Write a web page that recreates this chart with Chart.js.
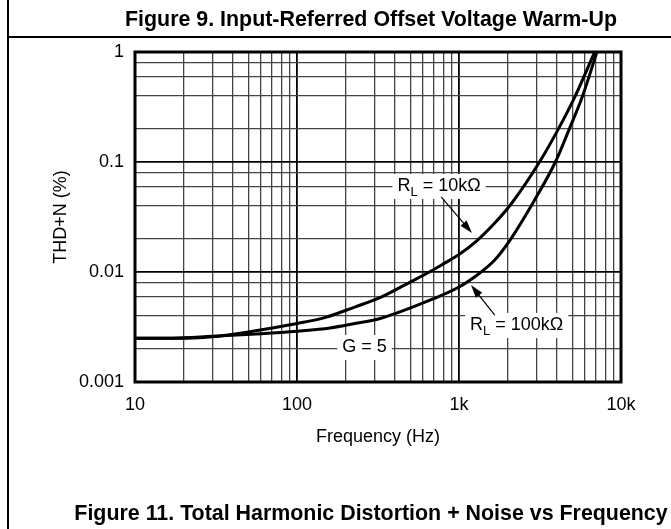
<!DOCTYPE html>
<html>
<head>
<meta charset="utf-8">
<script src="https://cdn.jsdelivr.net/npm/chart.js@4.4.1/dist/chart.umd.min.js"></script>
<style>
  html, body { margin: 0; padding: 0; background: #fff; }
  #page { position: relative; width: 671px; height: 529px; overflow: hidden; font-family: "Liberation Sans", Arial, sans-serif; color: #000; }
  #chartBox { position: absolute; left: 0; top: 0; width: 671px; height: 529px; }
  .rule-left { position: absolute; left: 7px; top: 0; width: 1.5px; height: 529px; background: #000; }
  .rule-top { position: absolute; left: 7px; top: 36px; width: 664px; height: 1.5px; background: #000; }
  .fig-title { position: absolute; left: 0; width: 742px; text-align: center; font-weight: bold; font-size: 21.4px; line-height: 24px; white-space: nowrap; }
</style>
</head>
<body>
<div id="page">
  <div id="chartBox"><canvas id="myChart" width="671" height="529"></canvas></div>
  <div class="rule-left"></div>
  <div class="rule-top"></div>
  <div class="fig-title" style="top:7px">Figure 9. Input-Referred Offset Voltage Warm-Up</div>
  <div class="fig-title" style="top:501px">Figure 11. Total Harmonic Distortion + Noise vs Frequency</div>
</div>
<script>
// THD+N vs frequency, G = 5
var freq10k = [10, 17, 30, 50, 100, 150, 227, 330, 500, 673, 820, 1000, 1271, 1663, 2097, 3140, 4108, 5224, 6878];
var thd10k  = [0.0025, 0.0025, 0.00258, 0.00285, 0.0034, 0.00387, 0.0048, 0.0059, 0.0081, 0.0102, 0.0121, 0.0144, 0.0189, 0.0279, 0.0415, 0.1, 0.2, 0.4, 1.0];

var freq100k = [10, 17, 30, 60, 100, 160, 227, 330, 673, 1000, 1345, 1650, 2000, 2925, 3935, 4800, 5800, 7100];
var thd100k  = [0.0025, 0.0025, 0.0026, 0.00275, 0.0029, 0.0031, 0.0034, 0.0038, 0.0056, 0.0073, 0.0098, 0.0127, 0.0182, 0.045, 0.1, 0.2, 0.4, 1.0];

var xTicks = [10,20,30,40,50,60,70,80,90,100,200,300,400,500,600,700,800,900,1000,2000,3000,4000,5000,6000,7000,8000,9000,10000];
var xLabels = {10: '10', 100: '100', 1000: '1k', 10000: '10k'};
var yTicks = [0.001,0.002,0.004,0.006,0.008,0.01,0.02,0.04,0.06,0.08,0.1,0.2,0.4,0.6,0.8,1];
var yLabels = {0.001: '0.001', 0.01: '0.01', 0.1: '0.1', 1: '1'};

// callouts, anchored in data units: [freq, thd]
var notes = [
    {main: 'R', sub: 'L', rest: ' = 10kΩ', at: [753, 0.0605], arrow: [[776, 0.0481], [1203, 0.0226]]},
    {main: 'R', sub: 'L', rest: ' = 100kΩ', at: [2270, 0.0033], arrow: [[1663, 0.00406], [1186, 0.00762]]},
    {main: 'G = 5', sub: '', rest: '', at: [261, 0.00208], arrow: null}
];

var FONT = '"Liberation Sans", Arial, sans-serif';

function isDecade(v) {
    var l = Math.log10(v);
    return Math.abs(l - Math.round(l)) < 1e-6;
}
function toPoints(xs, ys) {
    return xs.map(function(x, i) { return {x: x, y: ys[i]}; });
}
function gridColor(c) { return (c.tick && isDecade(c.tick.value)) ? '#000' : '#444'; }
function gridWidth(c) { return (c.tick && isDecade(c.tick.value)) ? 1.8 : 1.3; }

var framePlugin = {
    id: 'frame',
    afterDatasetsDraw: function(chart) {
        var ctx = chart.ctx, a = chart.chartArea;
        var xs = chart.scales.x, ys = chart.scales.y;
        ctx.save();
        ctx.strokeStyle = '#000';
        ctx.lineWidth = 3;
        ctx.strokeRect(a.left, a.top, a.right - a.left, a.bottom - a.top);

        ctx.textBaseline = 'middle';
        notes.forEach(function(n) {
            var subFont = '13px ' + FONT;
            ctx.font = '18px ' + FONT;
            var w1 = ctx.measureText(n.main).width;
            var w3 = ctx.measureText(n.rest).width;
            ctx.font = subFont;
            var w2 = n.sub ? ctx.measureText(n.sub).width : 0;
            var w = w1 + w2 + w3;
            var cx = xs.getPixelForValue(n.at[0]);
            var cy = ys.getPixelForValue(n.at[1]);
            ctx.fillStyle = '#fff';
            ctx.fillRect(cx - w / 2 - 5, cy - 12, w + 10, 25);
            ctx.fillStyle = '#000';
            var x0 = cx - w / 2;
            ctx.textAlign = 'left';
            ctx.font = '18px ' + FONT;
            ctx.fillText(n.main, x0, cy);
            if (n.sub) {
                ctx.font = subFont;
                ctx.fillText(n.sub, x0 + w1, cy + 6);
            }
            ctx.font = '18px ' + FONT;
            ctx.fillText(n.rest, x0 + w1 + w2, cy);

            if (n.arrow) {
                var x1 = xs.getPixelForValue(n.arrow[0][0]), y1 = ys.getPixelForValue(n.arrow[0][1]);
                var x2 = xs.getPixelForValue(n.arrow[1][0]), y2 = ys.getPixelForValue(n.arrow[1][1]);
                var ang = Math.atan2(y2 - y1, x2 - x1);
                ctx.lineWidth = 1.2;
                ctx.beginPath();
                ctx.moveTo(x1, y1);
                ctx.lineTo(x2 - 8 * Math.cos(ang), y2 - 8 * Math.sin(ang));
                ctx.stroke();
                ctx.beginPath();
                ctx.moveTo(x2, y2);
                ctx.lineTo(x2 - 13 * Math.cos(ang) + 4 * Math.sin(ang), y2 - 13 * Math.sin(ang) - 4 * Math.cos(ang));
                ctx.lineTo(x2 - 13 * Math.cos(ang) - 4 * Math.sin(ang), y2 - 13 * Math.sin(ang) + 4 * Math.cos(ang));
                ctx.closePath();
                ctx.fill();
            }
        });
        ctx.restore();
    }
};

var ctx = document.getElementById('myChart').getContext('2d');
var myChart = new Chart(ctx, {
    type: 'line',
    data: {
        datasets: [{
            label: 'RL = 10kΩ',
            data: toPoints(freq10k, thd10k),
            borderColor: '#000',
            borderWidth: 3,
            pointRadius: 0,
            cubicInterpolationMode: 'monotone'
        }, {
            label: 'RL = 100kΩ',
            data: toPoints(freq100k, thd100k),
            borderColor: '#000',
            borderWidth: 3,
            pointRadius: 0,
            cubicInterpolationMode: 'monotone'
        }]
    },
    options: {
        responsive: false,
        animation: false,
        layout: {padding: {left: 9, right: 50, top: 52, bottom: 77}},
        plugins: {legend: {display: false}, tooltip: {enabled: false}},
        scales: {
            x: {
                type: 'logarithmic',
                min: 10,
                max: 10000,
                afterBuildTicks: function(scale) {
                    scale.ticks = xTicks.map(function(v) { return {value: v}; });
                },
                afterFit: function(scale) { scale.height = 70; },
                ticks: {
                    autoSkip: false,
                    maxRotation: 0,
                    padding: 12,
                    color: '#000',
                    font: {family: FONT, size: 18},
                    callback: function(v) { return xLabels[v] || ''; }
                },
                grid: {color: gridColor, lineWidth: gridWidth, drawTicks: false},
                border: {display: false},
                title: {display: true, text: 'Frequency (Hz)', color: '#000', font: {family: FONT, size: 18}, padding: {top: 0, bottom: 4}}
            },
            y: {
                type: 'logarithmic',
                min: 0.001,
                max: 1,
                afterBuildTicks: function(scale) {
                    scale.ticks = yTicks.map(function(v) { return {value: v}; });
                },
                afterFit: function(scale) { scale.width = 126; },
                ticks: {
                    autoSkip: false,
                    padding: 11,
                    color: '#000',
                    font: {family: FONT, size: 18},
                    callback: function(v) { return yLabels[v] || ''; }
                },
                grid: {color: gridColor, lineWidth: gridWidth, drawTicks: false},
                border: {display: false},
                title: {display: true, text: 'THD+N (%)', color: '#000', font: {family: FONT, size: 18}, padding: {top: 41, bottom: 0}}
            }
        }
    },
    plugins: [framePlugin]
});
</script>
</body>
</html>
